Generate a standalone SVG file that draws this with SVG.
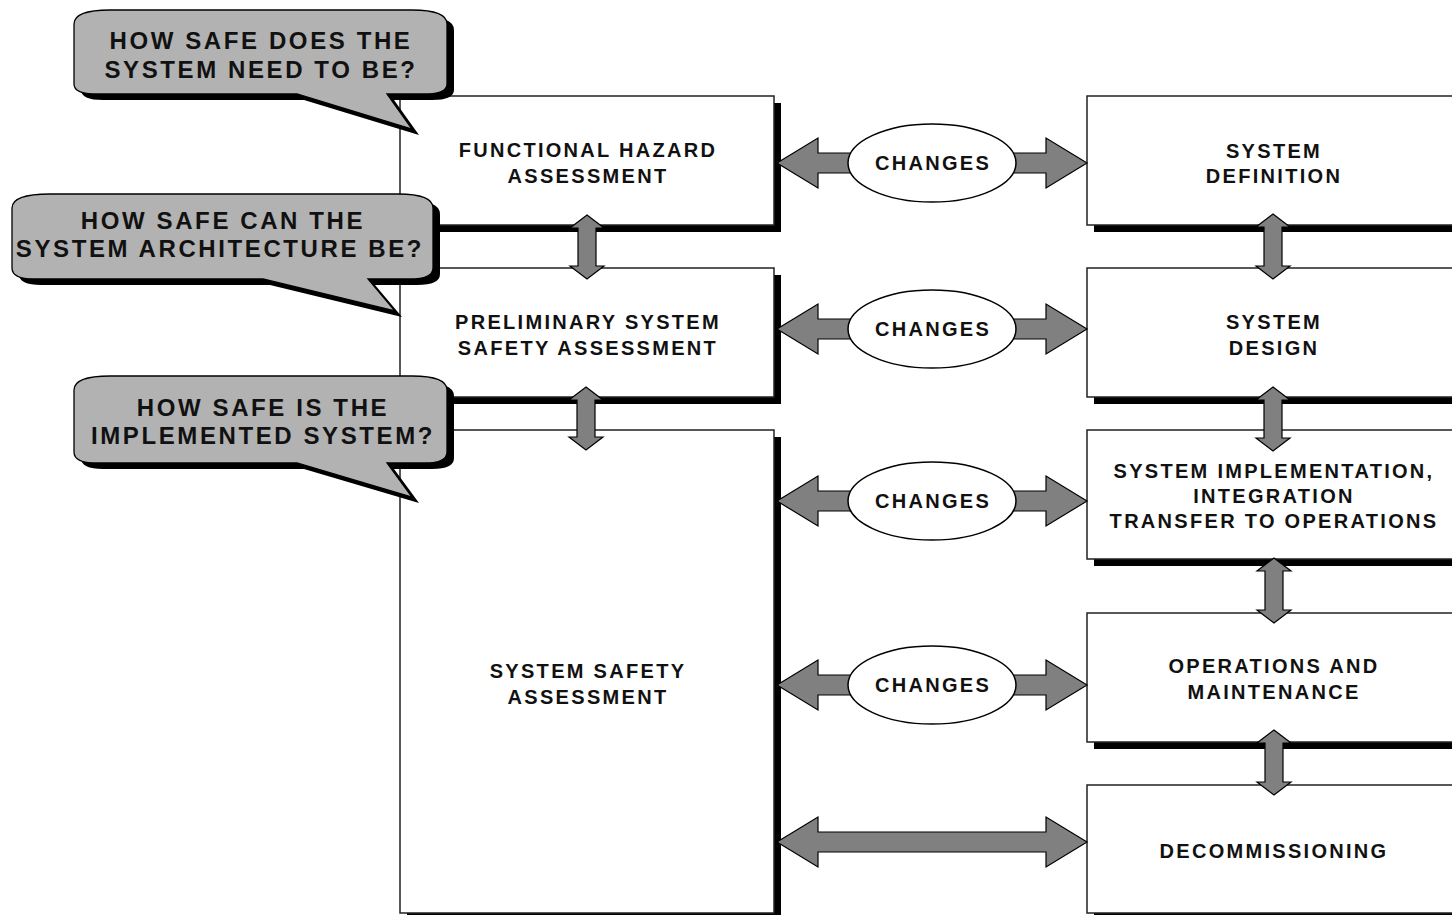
<svg xmlns="http://www.w3.org/2000/svg" width="1452" height="915" viewBox="0 0 1452 915">
<style>
.bx{fill:#fff;stroke:#222;stroke-width:1.5}
.sh{fill:#000}
.t{font-family:"Liberation Sans",Arial,sans-serif;font-weight:bold;font-size:20px;letter-spacing:2.3px;fill:#111;text-anchor:middle}
.bt{font-family:"Liberation Sans",Arial,sans-serif;font-weight:bold;font-size:24px;letter-spacing:2.6px;fill:#111;text-anchor:middle}
.ar{fill:#808080;stroke:#000;stroke-width:1.2;stroke-linejoin:miter}
.el{fill:#fff;stroke:#000;stroke-width:1.5}
.bub{fill:#b2b2b2;stroke:#000;stroke-width:1.3}
</style>
<rect width="1452" height="915" fill="#fff"/>

<g id="fha">
<rect class="sh" x="407" y="103" width="374" height="129"/>
<rect class="bx" x="400" y="96" width="374" height="129"/>
<text class="t" x="588" y="157">FUNCTIONAL HAZARD</text>
<text class="t" x="588" y="183">ASSESSMENT</text>
</g>
<g id="pssa">
<rect class="sh" x="407" y="275" width="374" height="129"/>
<rect class="bx" x="400" y="268" width="374" height="129"/>
<text class="t" x="588" y="329">PRELIMINARY SYSTEM</text>
<text class="t" x="588" y="355">SAFETY ASSESSMENT</text>
</g>
<g id="ssa">
<rect class="sh" x="407" y="437" width="374" height="483"/>
<rect class="bx" x="400" y="430" width="374" height="483"/>
<text class="t" x="588" y="678">SYSTEM SAFETY</text>
<text class="t" x="588" y="704">ASSESSMENT</text>
</g>

<g id="sysdef">
<rect class="sh" x="1094" y="103" width="372" height="129"/>
<rect class="bx" x="1087" y="96" width="372" height="129"/>
<text class="t" x="1274" y="158">SYSTEM</text>
<text class="t" x="1274" y="183">DEFINITION</text>
</g>
<g id="sysdesign">
<rect class="sh" x="1094" y="275" width="372" height="129"/>
<rect class="bx" x="1087" y="268" width="372" height="129"/>
<text class="t" x="1274" y="329">SYSTEM</text>
<text class="t" x="1274" y="355">DESIGN</text>
</g>
<g id="sysimpl">
<rect class="sh" x="1094" y="437" width="372" height="129"/>
<rect class="bx" x="1087" y="430" width="372" height="129"/>
<text class="t" x="1274" y="478">SYSTEM IMPLEMENTATION,</text>
<text class="t" x="1274" y="503">INTEGRATION</text>
<text class="t" x="1274" y="528">TRANSFER TO OPERATIONS</text>
</g>
<g id="ops">
<rect class="sh" x="1094" y="620" width="372" height="129"/>
<rect class="bx" x="1087" y="613" width="372" height="129"/>
<text class="t" x="1274" y="673">OPERATIONS AND</text>
<text class="t" x="1274" y="699">MAINTENANCE</text>
</g>
<g id="decomm">
<rect class="sh" x="1094" y="792" width="372" height="128"/>
<rect class="bx" x="1087" y="785" width="372" height="128"/>
<text class="t" x="1274" y="858">DECOMMISSIONING</text>
</g>

<g id="connectors">
<polygon class="ar" points="587,215 604,228 596,228 596,266 604,266 587,279 570,266 578,266 578,228 570,228"/>
<polygon class="ar" points="586,387 603,400 595,400 595,437 603,437 586,450 569,437 577,437 577,400 569,400"/>
<polygon class="ar" points="1273,214 1290,227 1282,227 1282,266 1290,266 1273,279 1256,266 1264,266 1264,227 1256,227"/>
<polygon class="ar" points="1273,387 1290,400 1282,400 1282,438 1290,438 1273,451 1256,438 1264,438 1264,400 1256,400"/>
<polygon class="ar" points="1274,558 1291,571 1283,571 1283,610 1291,610 1274,623 1257,610 1265,610 1265,571 1257,571"/>
<polygon class="ar" points="1274,730 1291,743 1283,743 1283,782 1291,782 1274,795 1257,782 1265,782 1265,743 1257,743"/>

<polygon class="ar" points="777,163 818,138 818,153 1046,153 1046,138 1087,163 1046,188 1046,173 818,173 818,188"/>
<polygon class="ar" points="777,329 818,304 818,319 1046,319 1046,304 1087,329 1046,354 1046,339 818,339 818,354"/>
<polygon class="ar" points="777,501 818,476 818,491 1046,491 1046,476 1087,501 1046,526 1046,511 818,511 818,526"/>
<polygon class="ar" points="777,685 818,660 818,675 1046,675 1046,660 1087,685 1046,710 1046,695 818,695 818,710"/>
<polygon class="ar" points="777,842 818,817 818,832 1046,832 1046,817 1087,842 1046,867 1046,852 818,852 818,867"/>

<ellipse class="el" cx="932" cy="163" rx="84" ry="39"/>
<text class="t" x="933" y="170">CHANGES</text>
<ellipse class="el" cx="932" cy="329" rx="84" ry="39"/>
<text class="t" x="933" y="336">CHANGES</text>
<ellipse class="el" cx="932" cy="501" rx="84" ry="39"/>
<text class="t" x="933" y="508">CHANGES</text>
<ellipse class="el" cx="932" cy="685" rx="84" ry="39"/>
<text class="t" x="933" y="692">CHANGES</text>
</g>

<g id="callout1">
<path class="sh" transform="translate(7,6)" d="M74,24 Q74,10 110,10 L412,10 Q447,10 447,24 L447,84 Q447,94 425,94 L387,94 L412,129 L297,94 L96,94 Q74,94 74,84 Z"/>
<path class="bub" d="M74,24 Q74,10 110,10 L412,10 Q447,10 447,24 L447,84 Q447,94 425,94 L387,94 L412,129 L297,94 L96,94 Q74,94 74,84 Z"/>
<text class="bt" x="261" y="49">HOW SAFE DOES THE</text>
<text class="bt" x="261" y="78">SYSTEM NEED TO BE?</text>
</g>
<g id="callout2">
<path class="sh" transform="translate(7,6)" d="M12,208 Q12,194 50,194 L398,194 Q433,194 433,208 L433,268 Q433,279 410,279 L368,279 L395,311 L263,279 L34,279 Q12,279 12,268 Z"/>
<path class="bub" d="M12,208 Q12,194 50,194 L398,194 Q433,194 433,208 L433,268 Q433,279 410,279 L368,279 L395,311 L263,279 L34,279 Q12,279 12,268 Z"/>
<text class="bt" x="223" y="229">HOW SAFE CAN THE</text>
<text class="bt" x="220" y="257">SYSTEM ARCHITECTURE BE?</text>
</g>
<g id="callout3">
<path class="sh" transform="translate(7,6)" d="M74,390 Q74,376 110,376 L412,376 Q447,376 447,390 L447,452 Q447,463 425,463 L387,463 L412,497 L297,463 L96,463 Q74,463 74,452 Z"/>
<path class="bub" d="M74,390 Q74,376 110,376 L412,376 Q447,376 447,390 L447,452 Q447,463 425,463 L387,463 L412,497 L297,463 L96,463 Q74,463 74,452 Z"/>
<text class="bt" x="263" y="416">HOW SAFE IS THE</text>
<text class="bt" x="263" y="444">IMPLEMENTED SYSTEM?</text>
</g>
</svg>
